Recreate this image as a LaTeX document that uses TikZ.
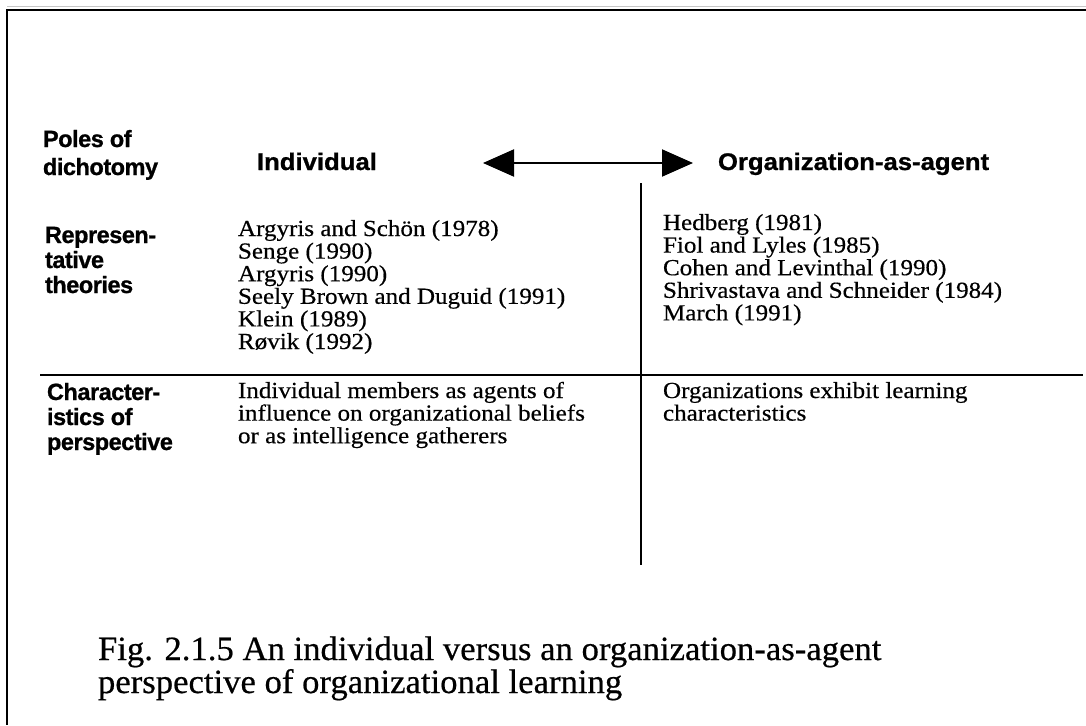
\documentclass[tikz,border=0pt]{standalone}
\usepackage{fontspec}
\setmainfont{Liberation Serif}
\newfontfamily\listfam[FakeStretch=1.09,FakeBold=0.45]{Liberation Serif}
\newfontfamily\capfam[FakeStretch=1.02,FakeBold=0.5]{Liberation Serif}
\newfontfamily\headfam[FakeStretch=1.07,FakeBold=0.9]{Liberation Sans}
\newfontfamily\rowfam[FakeBold=0.9,LetterSpace=-2]{Liberation Sans}
\usetikzlibrary{arrows.meta}
% a block of lines set at exactly the current \baselineskip
\newcommand\lineblock[1]{\vtop{\lineskiplimit=-100pt\relax\lineskip=0pt\relax #1}}

\begin{document}
\begin{tikzpicture}[x=1pt,y=-1pt,
  frame/.style={line width=2.5pt,black},
  rule/.style={line width=1.6pt,black},
  poles/.style={line width=2pt,{Triangle[length=31pt,width=27pt]}-{Triangle[length=31pt,width=27pt]}},
  txt/.style={anchor=base west,inner sep=0pt,outer sep=0pt},
  rowlabel/.style={txt,font=\rowfam\bfseries\fontsize{23.5}{25}\selectfont},
  heading/.style={txt,font=\headfam\bfseries\fontsize{24}{28}\selectfont},
  entry/.style={txt,font=\listfam\fontsize{23}{22.6}\selectfont},
  caption/.style={txt,font=\capfam\fontsize{34}{33}\selectfont}]

  \useasboundingbox (0,0) rectangle (1086,725);

  % outer frame (top and left edges)
  \coordinate (fTL) at (7,10);
  \coordinate (fTR) at (1086,10);
  \coordinate (fBL) at (7,725);
  \draw[gray!45,line width=1pt] (7,7) -- (1086,7);
  \draw[frame] (fTR) -- (fTL) -- (fBL);

  % row labels
  \node[rowlabel,font=\rowfam\bfseries\fontsize{23.5}{28}\selectfont] (poles) at (43,147)
    {\lineblock{\hbox{Poles of}\hbox{dichotomy}}};
  \node[rowlabel] (repr) at (45,243)
    {\lineblock{\hbox{Represen-}\hbox{tative}\hbox{theories}}};
  \node[rowlabel] (chars) at (47,400)
    {\lineblock{\hbox{Character-}\hbox{istics of}\hbox{perspective}}};

  % the two poles and the arrow between them
  \node[heading] (indiv) at (257,170) {Individual};
  \node[heading] (orgag) at (718,170) {Organization-as-agent};
  \coordinate (arrL) at (483,163);
  \coordinate (arrR) at (693,163);
  \draw[poles] (arrL) -- (arrR);

  % dividing lines
  \coordinate (vTop) at (641,183);
  \coordinate (vBot) at (641,565);
  \coordinate (hL) at (40,375);
  \coordinate (hR) at (1083,375);
  \draw[rule] (vTop) -- (vBot);
  \draw[rule] (hL) -- (hR);

  % representative theories
  \node[entry] (indTheo) at (238,236)
    {\lineblock{\hbox{Argyris and Schön (1978)}\hbox{Senge (1990)}\hbox{Argyris (1990)}%
      \hbox{Seely Brown and Duguid (1991)}\hbox{Klein (1989)}\hbox{Røvik (1992)}}};
  \node[entry] (orgTheo) at (663,230)
    {\lineblock{\hbox{Hedberg (1981)}\hbox{Fiol and Lyles (1985)}\hbox{Cohen and Levinthal (1990)}%
      \hbox{Shrivastava and Schneider (1984)}\hbox{March (1991)}}};

  % characteristics
  \node[entry] (indChar) at (238,398)
    {\lineblock{\hbox{Individual members as agents of}\hbox{influence on organizational beliefs}%
      \hbox{or as intelligence gatherers}}};
  \node[entry] (orgChar) at (663,398)
    {\lineblock{\hbox{Organizations exhibit learning}\hbox{characteristics}}};

  % figure caption
  \node[caption] (figcap) at (98,660)
    {\lineblock{\hbox{Fig. 2.1.5 An individual versus an organization-as-agent}%
      \hbox{perspective of organizational learning}}};
\end{tikzpicture}
\end{document}
